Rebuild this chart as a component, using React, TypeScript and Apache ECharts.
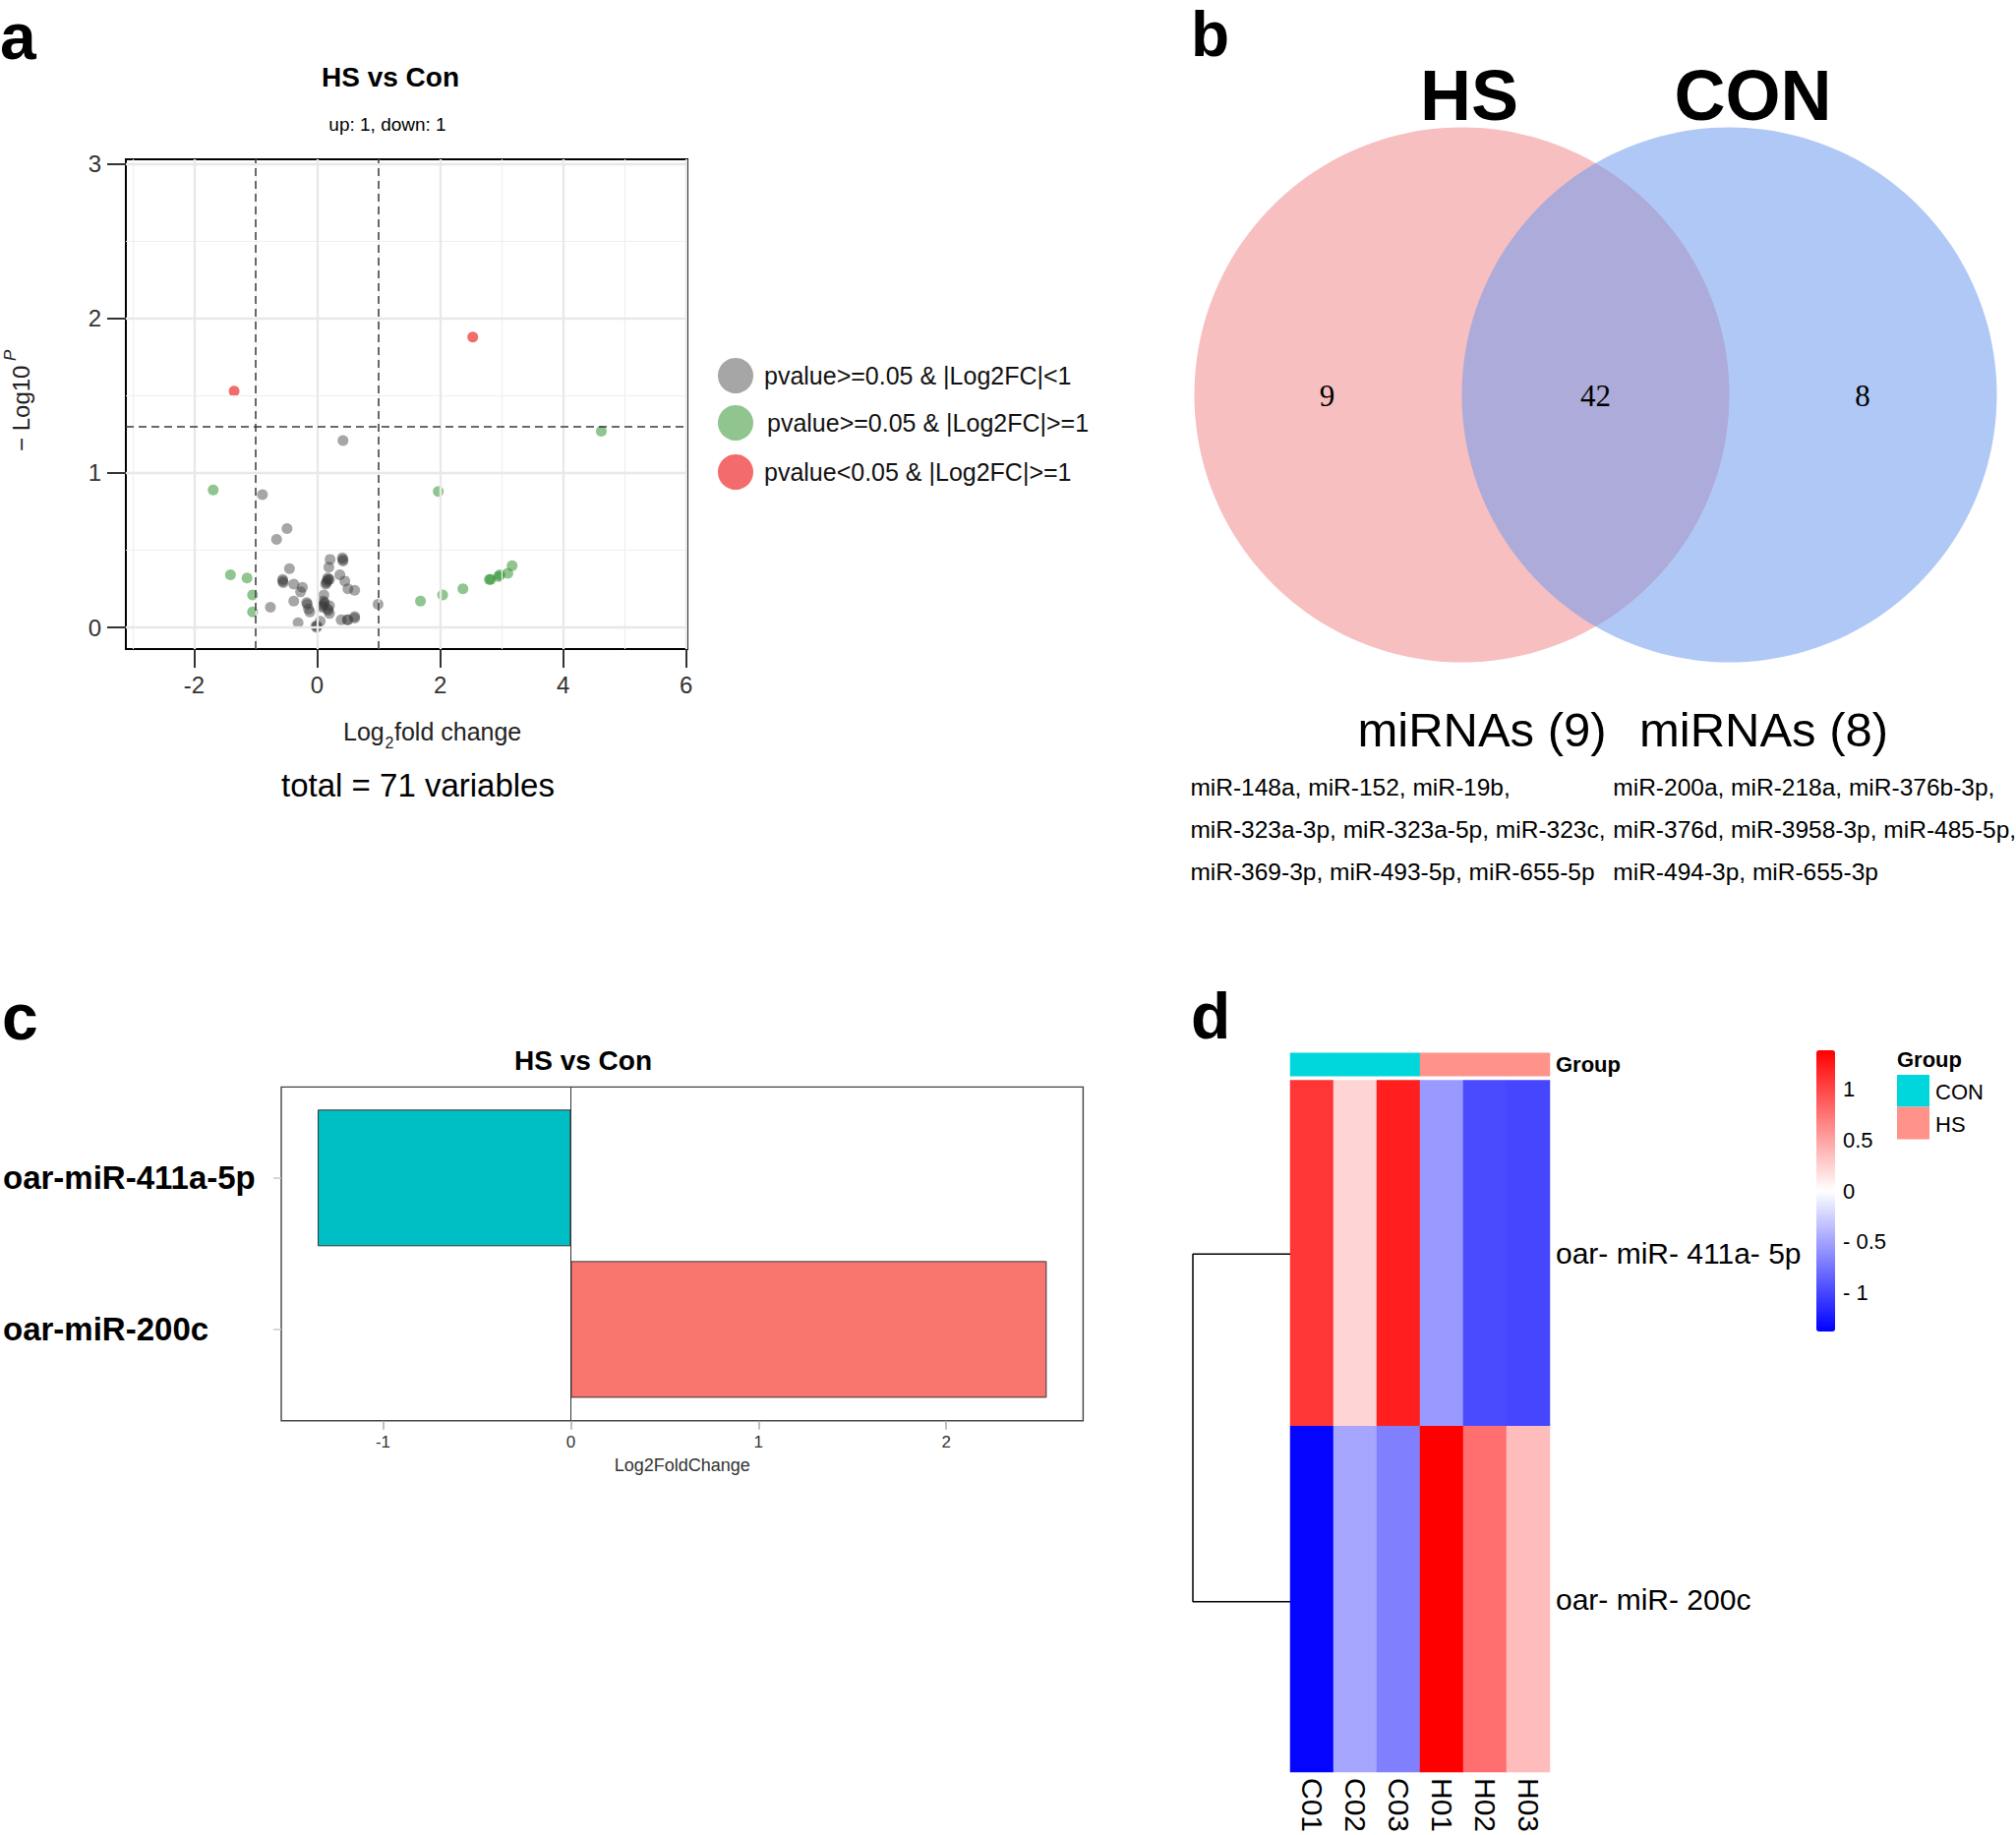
import React, { useEffect, useRef } from "react";
import * as echarts from "echarts";

// ---------- Panel a: volcano ----------
const volcanoGrey: [number, number][] = [
  [-0.45, 0.38], [-0.56, 0.30], [-0.56, 0.31], [-0.38, 0.28], [-0.24, 0.26], [-0.27, 0.23],
  [-0.38, 0.17], [-0.76, 0.13], [-0.16, 0.15], [-0.17, 0.16], [-0.14, 0.12], [-0.12, 0.10],
  [-0.31, 0.03], [0.21, 0.44], [0.42, 0.44], [0.41, 0.45], [0.19, 0.39], [0.18, 0.31],
  [0.17, 0.32], [0.16, 0.30], [0.15, 0.29], [0.14, 0.28], [0.20, 0.31], [0.37, 0.34],
  [0.45, 0.30], [0.50, 0.25], [0.61, 0.24], [0.11, 0.21], [0.10, 0.17], [0.11, 0.15],
  [0.12, 0.16], [0.08, 0.13], [0.20, 0.14], [0.18, 0.11], [0.17, 0.12], [0.20, 0.09],
  [0.05, 0.04], [0.0, 0.01], [-0.01, 0.0], [-0.02, 0.01], [0.39, 0.05], [0.49, 0.05],
  [0.50, 0.05], [0.61, 0.06], [0.99, 0.15], [0.42, 1.21], [-0.89, 0.86], [-0.49, 0.64],
  [-0.66, 0.57], [-0.55, 0.29], [0.61, 0.07], [0.42, 0.43], [0.09, 0.14],
];
const volcanoGreen: [number, number][] = [
  [4.62, 1.27], [-1.69, 0.89], [1.97, 0.88], [-1.41, 0.34], [-1.14, 0.32], [-1.05, 0.21],
  [-1.05, 0.10], [1.68, 0.17], [2.04, 0.21], [2.37, 0.25], [2.80, 0.31], [2.82, 0.31],
  [2.95, 0.33], [2.97, 0.34], [3.10, 0.35], [3.17, 0.40],
];
const volcanoRed: [number, number][] = [[-1.35, 1.53], [2.53, 1.88]];
const volcanoXTicks = [-2, 0, 2, 4, 6];
const volcanoYTicks = [0, 1, 2, 3];
const volcanoXMinor = [-3, -1, 1, 3, 5];
const volcanoYMinor = [0.5, 1.5, 2.5];
const fcCutoffs = [-1, 1];
const pCutoff = 1.301;
const volcanoLegend = [
  "pvalue>=0.05 & |Log2FC|<1",
  "pvalue>=0.05 & |Log2FC|>=1",
  "pvalue<0.05 & |Log2FC|>=1",
];

// ---------- Panel b: Venn ----------
const vennSets = ["HS", "CON"];
const vennCounts = [9, 42, 8];
const vennHeaders = ["miRNAs (9)", "miRNAs (8)"];
const vennHSOnly = [
  "miR-148a, miR-152, miR-19b,",
  "miR-323a-3p, miR-323a-5p, miR-323c,",
  "miR-369-3p, miR-493-5p, miR-655-5p",
];
const vennCONOnly = [
  "miR-200a, miR-218a, miR-376b-3p,",
  "miR-376d, miR-3958-3p, miR-485-5p,",
  "miR-494-3p, miR-655-3p",
];

// ---------- Panel c: bars ----------
const barCategories = ["oar-miR-411a-5p", "oar-miR-200c"];
const barValues = [-1.348, 2.535];
const barColors = ["#00BFC4", "#F8766D"];
const barXTicks = [-1, 0, 1, 2];

// ---------- Panel d: heatmap ----------
const heatSamples = ["C01", "C02", "C03", "H01", "H02", "H03"];
const heatGenes = ["oar- miR- 411a- 5p", "oar- miR- 200c"];
const heatRow411 = [1.09, 0.23, 1.21, -0.55, -0.98, -1.0];
const heatRow200 = [-1.36, -0.48, -0.69, 1.38, 0.78, 0.36];
const sampleGroups = ["CON", "CON", "CON", "HS", "HS", "HS"];
const groupColors: Record<string, string> = { CON: "#00D7DD", HS: "#FF9289" };
const colorbarTicks = [-1, -0.5, 0, 0.5, 1];
const dendroHeight = 1;

const FONT = "'Liberation Sans', Arial, Helvetica, sans-serif";
const SERIF = "'Liberation Serif', 'Times New Roman', serif";

const GREY_PT = { color: "#3a3a3a", opacity: 0.45 };
const GREEN_PT = { color: "#228B22", opacity: 0.5 };
const RED_PT = { color: "#EE2C2C", opacity: 0.7 };

function txt(x: number, y: number, text: string, fontSize: number, extra: any = {}) {
  const { style, ...rest } = extra;
  return {
    type: "text",
    x,
    y,
    silent: true,
    style: {
      text,
      fontSize,
      lineHeight: fontSize,
      fontFamily: FONT,
      fill: "#000",
      align: "center",
      verticalAlign: "middle",
      ...(style || {}),
    },
    ...rest,
  };
}

function gridLineSeries(data: any[], lineStyle: any, z: number) {
  return {
    type: "scatter",
    xAxisIndex: 0,
    yAxisIndex: 0,
    data: [[0, 0]],
    symbolSize: 0,
    silent: true,
    z,
    markLine: {
      silent: true,
      symbol: ["none", "none"],
      label: { show: false },
      emphasis: { disabled: true },
      lineStyle,
      data,
      animation: false,
    },
  };
}

export default function App() {
  const ref = useRef<HTMLDivElement>(null);

  useEffect(() => {
    if (!ref.current) return;
    const chart = echarts.init(ref.current, undefined, { renderer: "svg" });

    const heatData: any[] = [];
    heatRow411.forEach((v, i) => heatData.push([i, 0, v]));
    heatRow200.forEach((v, i) => heatData.push([i, 1, v]));

    const legendY = [382, 430, 480];
    const listY = [800.5, 843.6, 886.8];

    const graphic: any[] = [
      // panel letters
      txt(0, 37, "a", 66, { style: { fontWeight: "bold", align: "left" } }),
      txt(1211, 35, "b", 64, { style: { fontWeight: "bold", align: "left" } }),
      txt(2, 1034, "c", 66, { style: { fontWeight: "bold", align: "left" } }),
      txt(1211, 1033, "d", 66, { style: { fontWeight: "bold", align: "left" } }),

      // panel a texts
      txt(397, 78, "HS vs Con", 28, { style: { fontWeight: "bold" } }),
      txt(394, 126, "up: 1, down: 1", 19),
      txt(349, 744, "Log", 25, { style: { align: "left", fill: "#222" } }),
      txt(391.5, 755, "2", 16, { style: { align: "left", fill: "#222" } }),
      txt(401, 744, "fold change", 25, { style: { align: "left", fill: "#222" } }),
      {
        type: "group",
        x: 21,
        y: 407,
        rotation: Math.PI / 2,
        children: [
          txt(-52, 0, "\u2212 Log10", 24, { style: { align: "left", fill: "#222" } }),
          txt(40, -11, "P", 17, { style: { align: "left", fontStyle: "italic", fill: "#222" } }),
        ],
      },
      txt(425, 798, "total = 71 variables", 33),
      ...[GREY_PT, GREEN_PT, RED_PT].map((s, i) => ({
        type: "circle",
        silent: true,
        shape: { cx: 748, cy: legendY[i], r: 18 },
        style: { fill: s.color, opacity: s.opacity },
      })),
      ...volcanoLegend.map((t, i) =>
        txt(i === 1 ? 780 : 777, legendY[i], t, 25, { style: { align: "left", fill: "#111" } })
      ),

      // panel b venn
      {
        type: "circle",
        silent: true,
        shape: { cx: 1486.5, cy: 401.5, r: 272 },
        style: { fill: "#F7BFC0" },
      },
      {
        type: "circle",
        silent: true,
        shape: { cx: 1758.5, cy: 401.5, r: 272 },
        style: { fill: "#6F9BED", opacity: 0.55 },
      },
      txt(1494, 97, vennSets[0], 72, { style: { fontWeight: "bold" } }),
      txt(1782.5, 97, vennSets[1], 72, { style: { fontWeight: "bold" } }),
      ...vennCounts.map((c, i) =>
        txt([1349.6, 1622.4, 1894][i], 402.6, String(c), 31, { style: { fontFamily: SERIF } })
      ),
      txt(1507, 742, vennHeaders[0], 49),
      txt(1793.5, 742, vennHeaders[1], 49),
      ...vennHSOnly.map((t, i) => txt(1210.4, listY[i], t, 24.5, { style: { align: "left" } })),
      ...vennCONOnly.map((t, i) => txt(1640.3, listY[i], t, 24.5, { style: { align: "left" } })),

      // panel c title
      txt(593, 1078, "HS vs Con", 28, { style: { fontWeight: "bold" } }),

      // panel d group legend
      txt(1929, 1077, "Group", 22, { style: { fontWeight: "bold", align: "left" } }),
      {
        type: "rect",
        silent: true,
        shape: { x: 1929, y: 1093, width: 33, height: 32.5 },
        style: { fill: groupColors.CON },
      },
      {
        type: "rect",
        silent: true,
        shape: { x: 1929, y: 1125.5, width: 33, height: 33 },
        style: { fill: groupColors.HS },
      },
      txt(1968, 1110, "CON", 22, { style: { align: "left" } }),
      txt(1968, 1143, "HS", 22, { style: { align: "left" } }),
    ];

    const noZero = { onZero: false };

    const option: any = {
      animation: false,
      backgroundColor: "#fff",
      textStyle: { fontFamily: FONT },
      grid: [
        { left: 128, top: 162, width: 571, height: 498, show: true, borderColor: "#000", borderWidth: 2, backgroundColor: "#fff" },
        { left: 286, top: 1120.8, width: 815.4, height: 308.1 },
        { left: 286, top: 1105.4, width: 815.4, height: 339.4, show: true, borderColor: "#444", borderWidth: 1.4, backgroundColor: "transparent" },
        { left: 1312, top: 1098.6, width: 264, height: 706.8 },
        { left: 1312, top: 1070.8, width: 264, height: 23.4 },
        { left: 1213, top: 1098.6, width: 99, height: 706.8 },
        { left: 1847, top: 1068, width: 19, height: 286 },
      ],
      xAxis: [
        {
          gridIndex: 0,
          type: "value",
          min: -3.11,
          max: 6.02,
          axisLine: { show: true, ...noZero, lineStyle: { color: "#000", width: 2 } },
          axisTick: { show: true, customValues: volcanoXTicks, length: 19, lineStyle: { color: "#333", width: 2 } },
          axisLabel: { customValues: volcanoXTicks, fontSize: 24, color: "#333", margin: 24 },
          splitLine: { show: false },
        },
        { gridIndex: 1, type: "value", min: -1.542, max: 2.729, show: false, axisLine: noZero },
        {
          gridIndex: 2,
          type: "value",
          min: -1.542,
          max: 2.729,
          axisLine: { show: false, ...noZero },
          axisTick: { show: true, customValues: barXTicks, length: 9, lineStyle: { color: "#aaaaaa", width: 1.5 } },
          axisLabel: { customValues: barXTicks, fontSize: 17, color: "#333", margin: 13 },
          splitLine: { show: false },
          name: "Log2FoldChange",
          nameLocation: "middle",
          nameGap: 36,
          nameTextStyle: { fontSize: 18, color: "#333" },
        },
        {
          gridIndex: 3,
          type: "category",
          data: heatSamples,
          axisLine: { show: false, ...noZero },
          axisTick: { show: false },
          axisLabel: { rotate: -90, fontSize: 30, color: "#000", margin: 6, interval: 0 },
          splitArea: { show: false },
        },
        { gridIndex: 4, type: "category", data: heatSamples, show: false, axisLine: noZero },
        { gridIndex: 5, type: "value", min: 0, max: dendroHeight, inverse: true, show: false, axisLine: noZero },
        { gridIndex: 6, type: "value", min: 0, max: 1, show: false, axisLine: noZero },
      ],
      yAxis: [
        {
          gridIndex: 0,
          type: "value",
          min: -0.14,
          max: 3.03,
          axisLine: { show: true, ...noZero, lineStyle: { color: "#000", width: 2 } },
          axisTick: { show: true, customValues: volcanoYTicks, length: 19, lineStyle: { color: "#333", width: 2 } },
          axisLabel: { customValues: volcanoYTicks, fontSize: 24, color: "#333", margin: 25 },
          splitLine: { show: false },
        },
        {
          gridIndex: 1,
          type: "category",
          data: barCategories,
          inverse: true,
          axisLine: { show: false, ...noZero },
          axisTick: { show: true, alignWithLabel: true, length: 8, lineStyle: { color: "#c8c8c8", width: 1.5 } },
          axisLabel: { fontSize: 33, fontWeight: "bold", color: "#000", align: "left", margin: 283 },
        },
        { gridIndex: 2, type: "value", min: 0, max: 1, show: false, axisLine: noZero },
        {
          gridIndex: 3,
          type: "category",
          data: heatGenes,
          inverse: true,
          position: "right",
          axisLine: { show: false, ...noZero },
          axisTick: { show: false },
          axisLabel: { fontSize: 30, color: "#000", margin: 6 },
        },
        {
          gridIndex: 4,
          type: "category",
          data: ["Group"],
          position: "right",
          axisLine: { show: false, ...noZero },
          axisTick: { show: false },
          axisLabel: { fontSize: 22, fontWeight: "bold", color: "#000", margin: 6 },
        },
        { gridIndex: 5, type: "category", data: heatGenes, inverse: true, show: false, axisLine: noZero },
        {
          gridIndex: 6,
          type: "value",
          min: -1.38,
          max: 1.38,
          position: "right",
          axisLine: { show: false, ...noZero },
          axisTick: { show: false },
          splitLine: { show: false },
          axisLabel: {
            customValues: colorbarTicks,
            fontSize: 22,
            color: "#000",
            margin: 8,
            formatter: (v: number) => (v < 0 ? "- " + Math.abs(v) : String(v)),
          },
        },
      ],
      visualMap: [
        {
          type: "continuous",
          seriesIndex: 8,
          min: -1.38,
          max: 1.38,
          calculable: false,
          hoverLink: false,
          orient: "vertical",
          left: 1847,
          top: 1068,
          itemWidth: 19,
          itemHeight: 286,
          padding: 0,
          text: ["", ""],
          showLabel: false,
          inRange: { color: ["#0000FF", "#FFFFFF", "#FF0000"] },
        },
        {
          type: "piecewise",
          seriesIndex: 9,
          show: false,
          dimension: 2,
          pieces: [
            { value: 0, color: groupColors.CON },
            { value: 1, color: groupColors.HS },
          ],
        },
      ],
      series: [
        gridLineSeries(
          [...volcanoXMinor.map((v) => ({ xAxis: v })), ...volcanoYMinor.map((v) => ({ yAxis: v }))],
          { color: "#EFEFEF", width: 1.2, type: "solid" },
          1
        ),
        gridLineSeries(
          [...volcanoXTicks.map((v) => ({ xAxis: v })), ...volcanoYTicks.map((v) => ({ yAxis: v }))],
          { color: "#E8E8E8", width: 2.4, type: "solid" },
          1
        ),
        gridLineSeries(
          [...fcCutoffs.map((v) => ({ xAxis: v })), { yAxis: pCutoff }],
          { color: "#3a3a3a", width: 1.5, type: [8, 5] },
          2
        ),
        { type: "scatter", xAxisIndex: 0, yAxisIndex: 0, data: volcanoGrey, symbolSize: 11, itemStyle: GREY_PT, z: 3, silent: true },
        { type: "scatter", xAxisIndex: 0, yAxisIndex: 0, data: volcanoGreen, symbolSize: 11, itemStyle: GREEN_PT, z: 3, silent: true },
        { type: "scatter", xAxisIndex: 0, yAxisIndex: 0, data: volcanoRed, symbolSize: 11, itemStyle: RED_PT, z: 3, silent: true },
        {
          type: "bar",
          xAxisIndex: 1,
          yAxisIndex: 1,
          barWidth: 139,
          silent: true,
          data: barValues.map((v, i) => ({ value: v, itemStyle: { color: barColors[i] } })),
          itemStyle: { borderColor: "#333", borderWidth: 1 },
        },
        {
          type: "scatter",
          xAxisIndex: 2,
          yAxisIndex: 2,
          data: [[0, 0.5]],
          symbolSize: 0,
          silent: true,
          markLine: {
            silent: true,
            symbol: ["none", "none"],
            label: { show: false },
            emphasis: { disabled: true },
            lineStyle: { color: "#333", width: 1, type: "solid" },
            data: [{ xAxis: 0 }],
          },
        },
        {
          type: "heatmap",
          xAxisIndex: 3,
          yAxisIndex: 3,
          data: heatData,
          silent: true,
          itemStyle: { borderWidth: 0 },
        },
        {
          type: "heatmap",
          xAxisIndex: 4,
          yAxisIndex: 4,
          silent: true,
          data: sampleGroups.map((g, i) => [i, 0, g === "CON" ? 0 : 1]),
        },
        {
          type: "line",
          xAxisIndex: 5,
          yAxisIndex: 5,
          silent: true,
          symbol: "none",
          lineStyle: { color: "#000", width: 1.5 },
          data: [
            [0, heatGenes[0]],
            [dendroHeight, heatGenes[0]],
            [dendroHeight, heatGenes[1]],
            [0, heatGenes[1]],
          ],
        },
        { type: "scatter", xAxisIndex: 6, yAxisIndex: 6, data: [[0.5, 0]], symbolSize: 0, silent: true },
      ],
      graphic,
    };

    chart.setOption(option);
    return () => chart.dispose();
  }, []);

  return (
    <div
      ref={ref}
      style={{ position: "absolute", left: 0, top: 0, width: 2050, height: 1866, background: "#fff" }}
    />
  );
}
